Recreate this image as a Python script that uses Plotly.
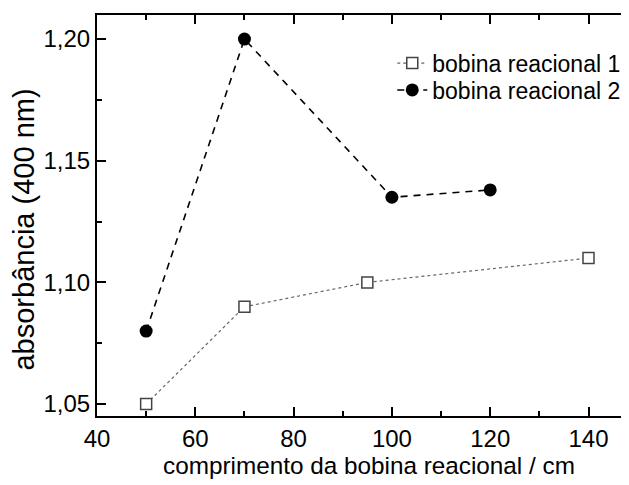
import plotly.graph_objects as go

# Data
x1 = [50, 70, 95, 140]
y1 = [1.05, 1.09, 1.10, 1.11]
x2 = [50, 70, 100, 120]
y2 = [1.08, 1.20, 1.135, 1.138]
name1 = "bobina reacional 1"
name2 = "bobina reacional 2"
x_title = "comprimento da bobina reacional / cm"
y_title = "absorbância (400 nm)"

FONT = "Arial, Liberation Sans, sans-serif"

fig = go.Figure()
fig.add_trace(go.Scatter(
    x=x1, y=y1, name=name1, mode="lines+markers", legend="legend",
    line=dict(color="#666666", width=1.2, dash="dot"),
    marker=dict(symbol="square", size=11, color="white",
                line=dict(color="#444444", width=1.5)),
))
fig.add_trace(go.Scatter(
    x=x2, y=y2, name=name2, mode="lines+markers", legend="legend2",
    line=dict(color="black", width=1.6, dash="7px,6px"),
    marker=dict(symbol="circle", size=13, color="black"),
))

leg_common = dict(xanchor="left", yanchor="middle", bgcolor="rgba(0,0,0,0)",
                  borderwidth=0, font=dict(size=23))

# page body has an 8px margin, so the figure is sized/offset to compensate
fig.update_layout(
    width=621, height=477,
    margin=dict(l=89, r=0, t=7, b=69, autoexpand=False),
    paper_bgcolor="white", plot_bgcolor="white",
    separators=",.",
    font=dict(family=FONT, size=23, color="black"),
    showlegend=True,
    legend=dict(x=0.555, y=0.880, **leg_common),
    legend2=dict(x=0.555, y=0.813, **leg_common),
    annotations=[
        dict(text=y_title, textangle=-90, showarrow=False,
             xref="paper", yref="paper", x=-0.138, y=0.464,
             xanchor="center", yanchor="middle", font=dict(size=29)),
        dict(text=x_title, showarrow=False,
             xref="paper", yref="paper", x=0.511, y=-0.124,
             xanchor="center", yanchor="middle", font=dict(size=24.3)),
    ],
)
fig.update_xaxes(
    range=[40, 148.24], tick0=40, dtick=20, automargin=False,
    showline=True, linecolor="black", linewidth=2, mirror="ticks",
    ticks="inside", ticklen=9, tickwidth=2, tickcolor="black",
    minor=dict(dtick=10, ticks="inside", ticklen=5, tickwidth=2, tickcolor="black"),
    showgrid=False, zeroline=False,
    tickfont=dict(size=24),
)
fig.update_yaxes(
    range=[1.0451, 1.2099], tick0=1.05, dtick=0.05, tickformat=".2f", automargin=False,
    showline=True, linecolor="black", linewidth=2, mirror=False,
    ticks="inside", ticklen=9, tickwidth=2, tickcolor="black",
    minor=dict(dtick=0.025, ticks="inside", ticklen=5, tickwidth=2, tickcolor="black"),
    showgrid=False, zeroline=False,
    tickfont=dict(size=24),
)

fig.write_html("out.html")
